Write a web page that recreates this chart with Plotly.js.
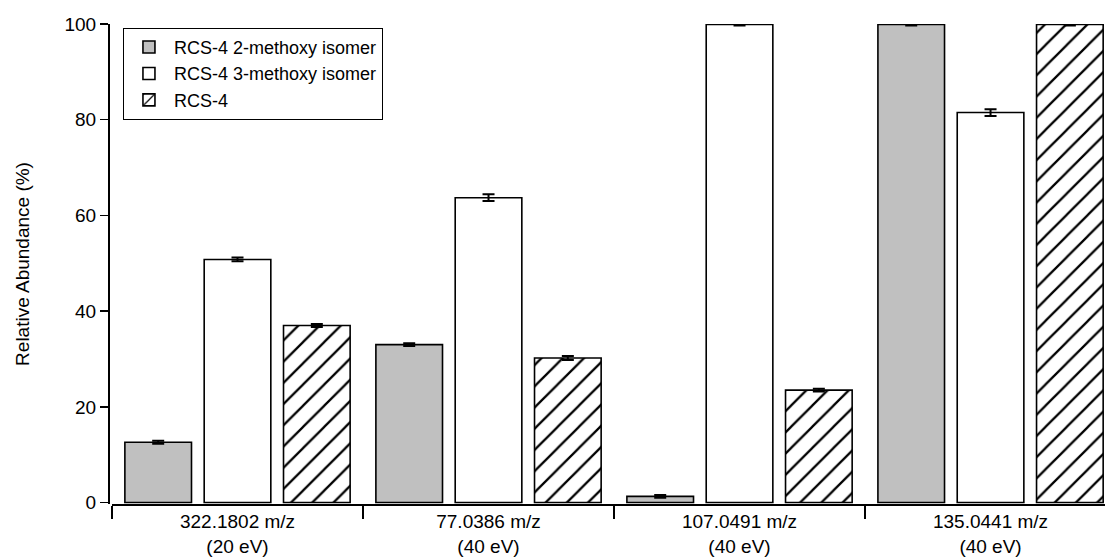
<!DOCTYPE html>
<html>
<head>
<meta charset="utf-8">
<script src="https://cdn.plot.ly/plotly-3.0.1.min.js"></script>
<style>
  html, body { margin: 0; padding: 0; background: #ffffff; overflow: hidden; }
  #chart { width: 1105px; height: 560px; }
</style>
</head>
<body>
<div id="chart"></div>
<script>
// Categories (fragment ions with collision energy)
const categories = [
  "322.1802 m/z<br>(20 eV)",
  "77.0386 m/z<br>(40 eV)",
  "107.0491 m/z<br>(40 eV)",
  "135.0441 m/z<br>(40 eV)"
];

// Series names
const seriesNames = ["RCS-4 2-methoxy isomer", "RCS-4 3-methoxy isomer", "RCS-4"];

// Relative abundance (%) values
const isomer2Values = [12.6, 33.0, 1.3, 99.9];
const isomer3Values = [50.8, 63.7, 99.9, 81.5];
const rcs4Values    = [37.0, 30.2, 23.5, 99.9];

// Error (± %) values
const isomer2Errors = [0.3, 0.3, 0.3, 0.2];
const isomer3Errors = [0.4, 0.7, 0.2, 0.7];
const rcs4Errors    = [0.3, 0.4, 0.3, 0.2];

// Y tick values
const yTicks = [0, 20, 40, 60, 80, 100];

const FONT = "Liberation Sans, Arial, Helvetica, sans-serif";

function errSpec(arr) {
  return { type: "data", array: arr, visible: true, color: "#000000", thickness: 2, width: 6 };
}

const traces = [
  {
    type: "bar", name: seriesNames[0], x: categories, y: isomer2Values,
    marker: { color: "#c0c0c0", line: { color: "#000000", width: 1.6 } },
    error_y: errSpec(isomer2Errors), cliponaxis: false
  },
  {
    type: "bar", name: seriesNames[1], x: categories, y: isomer3Values,
    marker: { color: "#ffffff", line: { color: "#000000", width: 1.6 } },
    error_y: errSpec(isomer3Errors), cliponaxis: false
  },
  {
    type: "bar", name: seriesNames[2], x: categories, y: rcs4Values,
    marker: {
      color: "#ffffff", line: { color: "#000000", width: 1.6 },
      pattern: { shape: "/", size: 15, solidity: 0.15, fgcolor: "#000000", bgcolor: "#ffffff", fillmode: "replace" }
    },
    error_y: errSpec(rcs4Errors), cliponaxis: false
  }
];

const layout = {
  width: 1105, height: 560,
  margin: { l: 108, r: 0, t: 24, b: 56, pad: 0 },
  paper_bgcolor: "#ffffff", plot_bgcolor: "#ffffff",
  font: { family: FONT, size: 19, color: "#000000" },
  barmode: "group",
  bargap: 0.052,
  bargroupgap: 0.16,
  showlegend: true,
  legend: {
    x: 0.015, y: 0.992, xanchor: "left", yanchor: "top",
    bgcolor: "#ffffff", bordercolor: "#000000", borderwidth: 1,
    font: { family: FONT, size: 18, color: "#000000" },
    traceorder: "normal", itemwidth: 40
  },
  xaxis: {
    type: "category",
    domain: [4 / 997, 1],
    range: [-0.5, 3.456],
    showline: true, linecolor: "#000000", linewidth: 1.5,
    showgrid: false, zeroline: false,
    ticks: "outside", tickson: "boundaries", ticklen: 13, tickwidth: 1.5, tickcolor: "#000000",
    tickfont: { family: FONT, size: 19, color: "#000000" },
    ticklabelstandoff: 0,
    fixedrange: true
  },
  yaxis: {
    anchor: "free", position: 0,
    range: [-0.3, 100],
    tickvals: yTicks,
    ticktext: yTicks.map(String),
    showline: true, linecolor: "#000000", linewidth: 1.5,
    showgrid: false, zeroline: false,
    ticks: "outside", ticklen: 8, tickwidth: 1.5, tickcolor: "#000000",
    tickfont: { family: FONT, size: 19, color: "#000000" },
    title: { text: "Relative Abundance (%)", font: { family: FONT, size: 19, color: "#000000" }, standoff: 28 },
    automargin: false,
    fixedrange: true
  }
};

Plotly.newPlot("chart", traces, layout, { displayModeBar: false, staticPlot: true });
</script>
</body>
</html>
